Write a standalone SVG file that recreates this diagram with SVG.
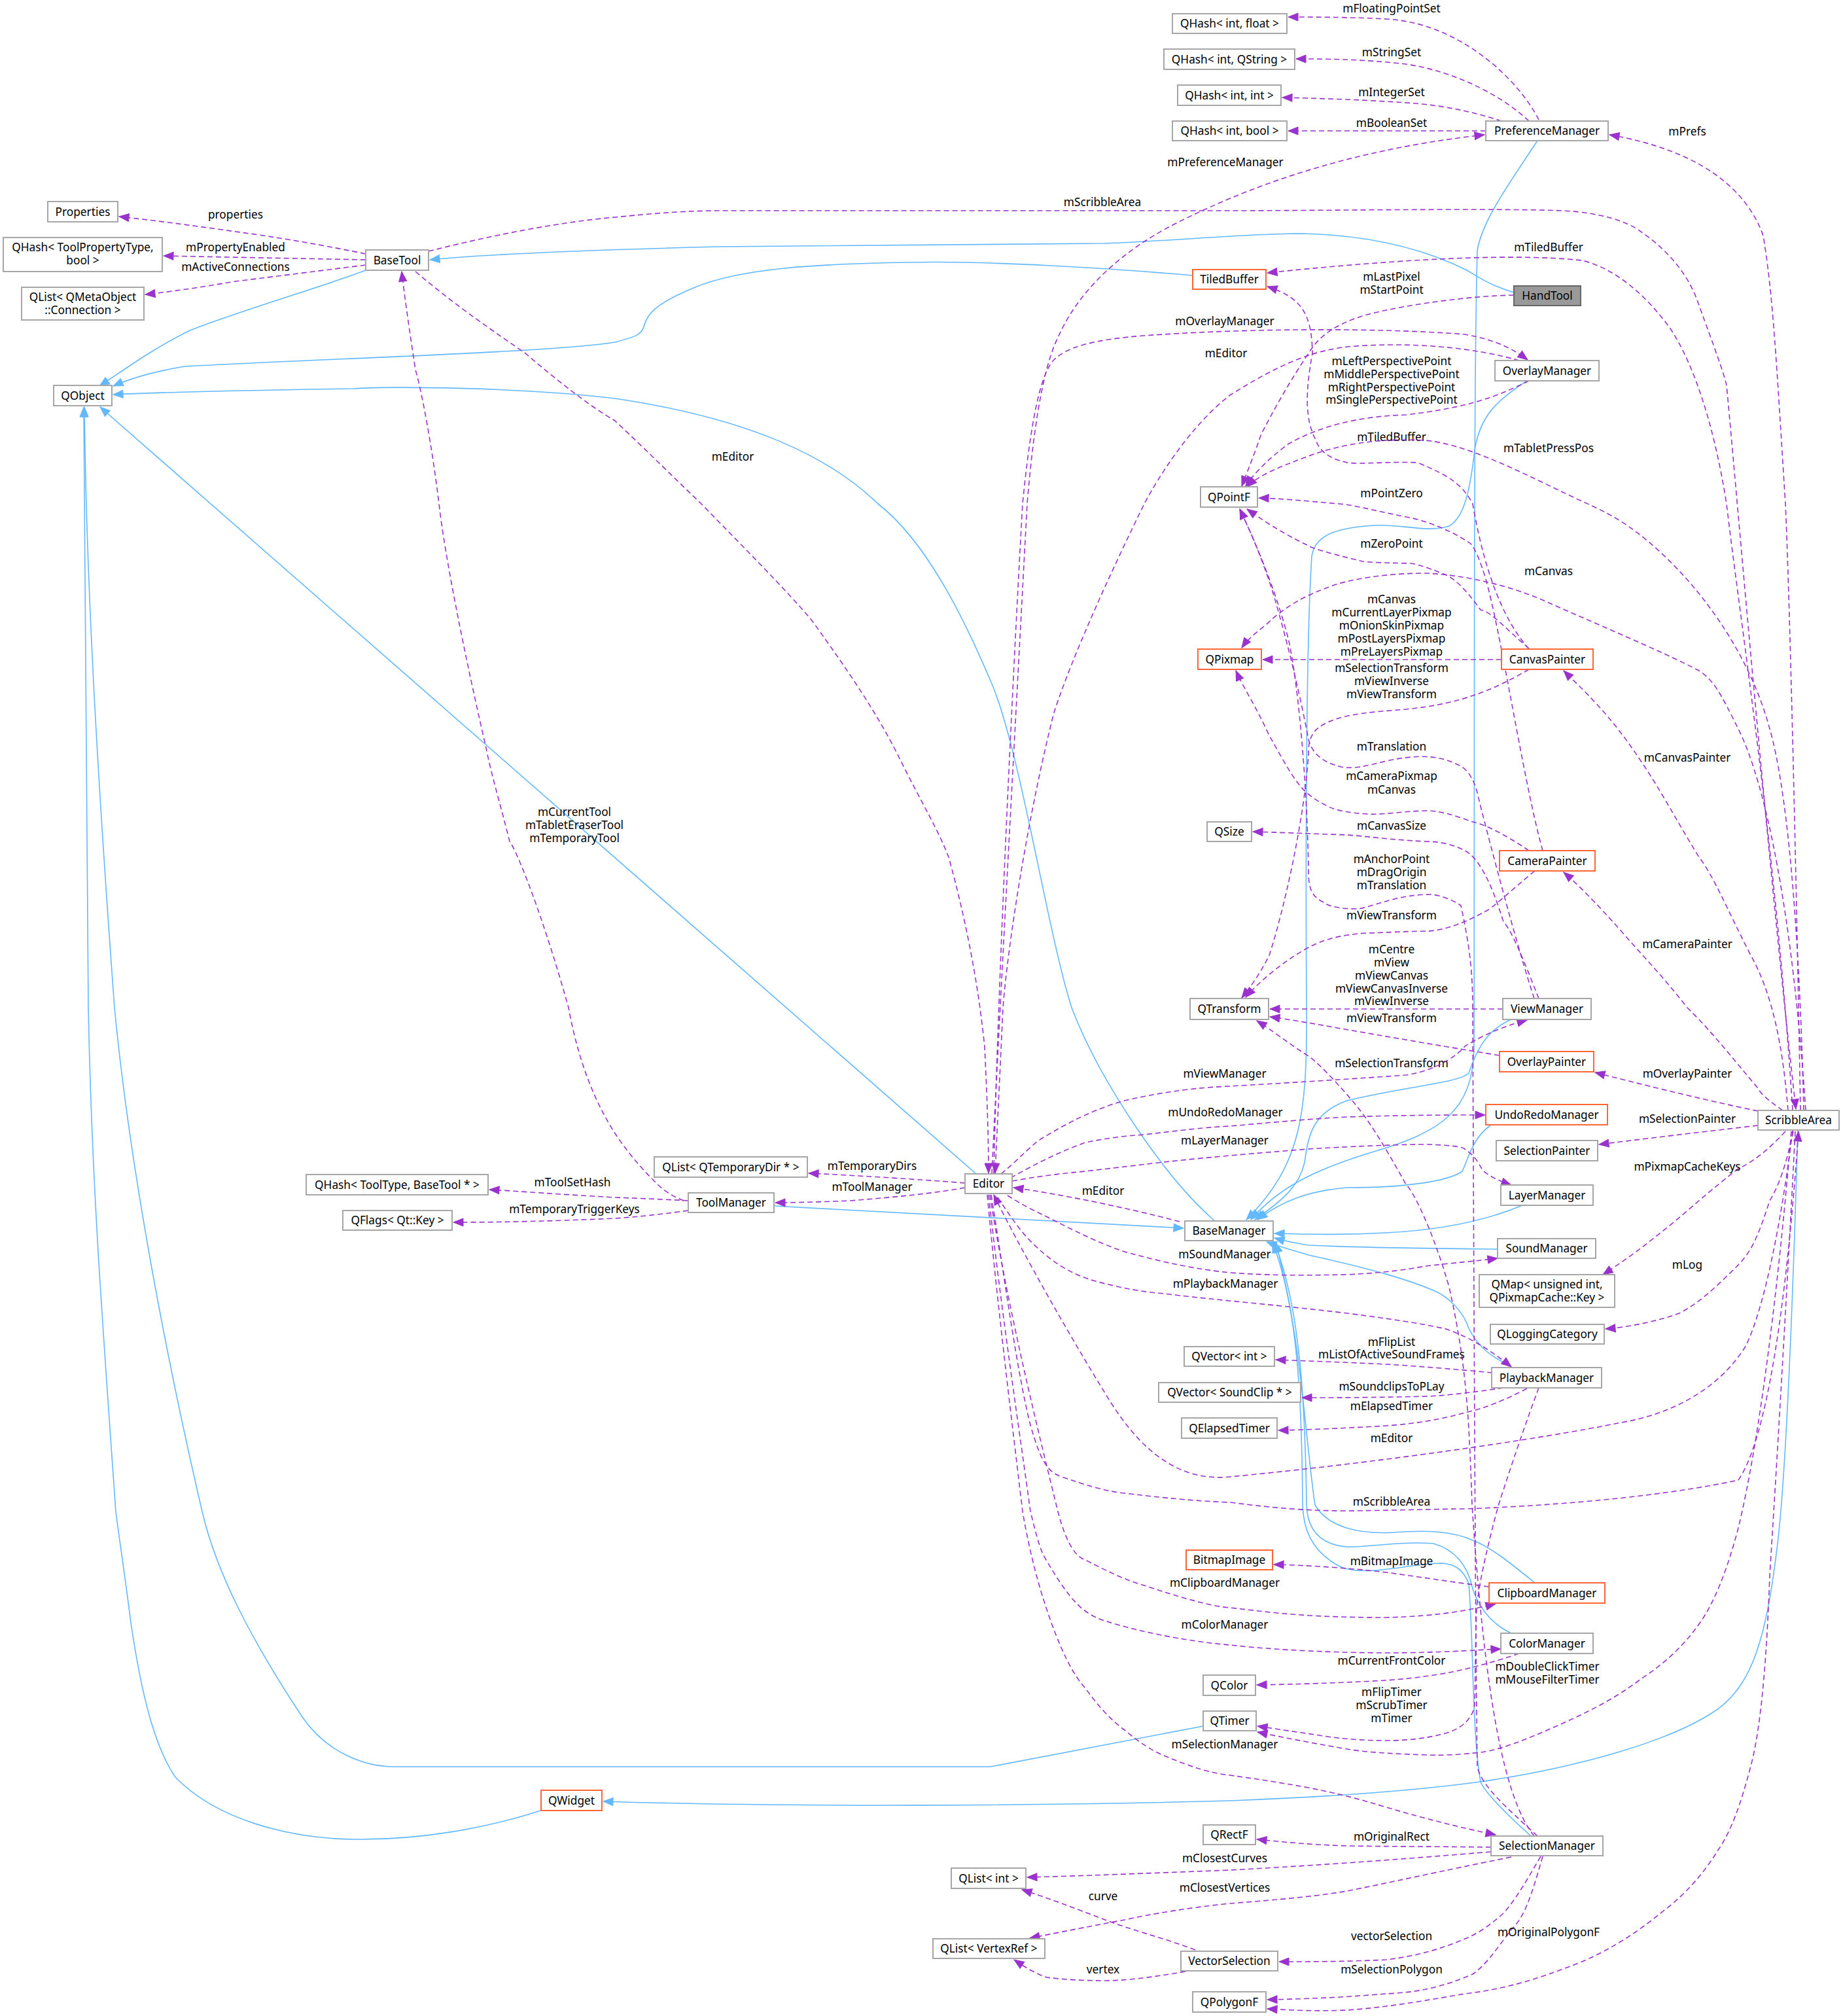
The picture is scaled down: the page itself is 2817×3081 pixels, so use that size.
<svg xmlns="http://www.w3.org/2000/svg" width="2817" height="3081" viewBox="0 0 2817 3081">
<style>
.node rect{fill:#ffffff;stroke:#a6a6a6;stroke-width:2}
.trunc rect{stroke:#ff6633}
.root rect{fill:#999999;stroke:#666666}
text{font-family:"Noto Sans","Liberation Sans",sans-serif;font-size:17.3px;fill:#000000;text-anchor:middle}
.inh{fill:none;stroke:#63b8ff;stroke-width:1.6;marker-end:url(#ab)}
.use{fill:none;stroke:#9a32cd;stroke-width:1.6;stroke-dasharray:8,5;marker-end:url(#ap)}
</style>
<defs>
<marker id="ab" markerUnits="userSpaceOnUse" markerWidth="18" markerHeight="14" refX="15" refY="6" orient="auto" overflow="visible"><path d="M0,0 L15,6 L0,12 z" fill="#63b8ff" stroke="#63b8ff" stroke-width="1"/></marker>
<marker id="ap" markerUnits="userSpaceOnUse" markerWidth="18" markerHeight="14" refX="15" refY="6" orient="auto" overflow="visible"><path d="M0,0 L15,6 L0,12 z" fill="#9a32cd" stroke="#9a32cd" stroke-width="1"/></marker>
</defs>
<rect x="0" y="0" width="2817" height="3081" fill="#ffffff"/>
<g id="connectors">
<!-- inheritance -->
<path class="inh" d="M2314,447 C2280,437 2262,425 2242,413 C2200,392 2120,360 1990,357 C1900,357 1800,368 1689,372 L1100,377 C900,382 750,388 657,397"/>
<path class="inh" d="M1823,421 C1700,410 1500,398 1390,401 C1250,403 1130,410 1060,440 C1000,465 990,480 985,496 C982,512 970,515 940,523 C850,538 500,548 282,560 C240,567 200,578 173,590"/>
<path class="inh" d="M559,413 C500,436 350,480 288,506 C230,535 190,565 152,590"/>
<path class="inh" d="M1857,1866 C1780,1800 1680,1650 1638,1540 C1600,1420 1560,1150 1516,1045 C1480,960 1420,830 1342,770 C1270,700 1150,640 940,609 C800,592 600,590 540,594 C400,596 280,598 173,603"/>
<path class="inh" d="M1492,1794 L153,622"/>
<path class="inh" d="M1839,2638 L1514,2700 L602,2700 C560,2700 500,2680 462,2624 C380,2500 330,2400 309,2310 C260,2100 200,1800 175,1540 C150,1200 132,900 129,622"/>
<path class="inh" d="M827,2767 C740,2795 640,2812 543,2811 C440,2810 330,2780 268,2716 C230,2660 212,2560 200,2480 C190,2400 182,2350 177,2310 C155,2000 140,1800 135,1540 C130,1200 128,900 128,622"/>
<path class="inh" d="M2748,1727 C2740,2000 2730,2250 2717,2359 C2700,2500 2680,2580 2615,2619 C2550,2660 2420,2700 2263,2723 C2100,2745 1900,2751 1880,2752 C1600,2760 1200,2762 922,2753"/>
<path class="inh" d="M1183,1843 L1809,1877"/>
<path class="inh" d="M2350,215 C2300,290 2265,340 2258,383 C2252,600 2254,1200 2253,1600 C2252,1700 2200,1730 2100,1760 C2000,1790 1950,1820 1912,1864"/>
<path class="inh" d="M2334,582 C2290,610 2262,635 2254,688 C2248,740 2240,790 2215,804 C2180,815 2140,800 2100,803 C2050,806 2010,815 2005,850 C1995,1000 1996,1400 1997,1540 C1998,1700 1990,1780 1905,1864"/>
<path class="inh" d="M2310,1558 C2270,1575 2255,1610 2245,1640 C2230,1655 2150,1660 2059,1682 C2010,1700 2000,1730 1995,1770 C1990,1810 1960,1835 1918,1864"/>
<path class="inh" d="M2278,1720 C2250,1740 2245,1770 2235,1790 C2215,1805 2150,1815 2059,1815 C2000,1820 1960,1835 1922,1864"/>
<path class="inh" d="M2327,1842 C2270,1866 2200,1880 2119,1884 C2050,1888 2000,1886 1948,1885"/>
<path class="inh" d="M2289,1909 C2200,1908 2080,1907 2000,1903 C1980,1900 1965,1897 1948,1892"/>
<path class="inh" d="M2310,2088 C2270,2070 2255,2050 2245,2030 C2235,2000 2210,1980 2191,1972 C2150,1955 2100,1940 2000,1918 C1980,1912 1955,1905 1936,1898"/>
<path class="inh" d="M2346,2419 C2310,2390 2280,2365 2251,2354 C2220,2340 2180,2338 2130,2342 C2080,2345 2030,2335 2010,2300 C1995,2200 1990,2050 1950,1899"/>
<path class="inh" d="M2310,2496 C2275,2480 2258,2450 2251,2428 C2245,2400 2230,2370 2191,2359 C2140,2355 2090,2365 2059,2364 C2010,2360 1998,2330 1997,2300 C1995,2150 1988,2000 1948,1899"/>
<path class="inh" d="M2340,2806 C2300,2770 2270,2740 2263,2723 C2250,2650 2252,2500 2245,2420 C2235,2395 2220,2390 2203,2389 C2150,2390 2090,2410 2050,2395 C2000,2370 1992,2330 1991,2300 C1990,2150 1985,2000 1945,1899"/>
<!-- usage -->
<g id="e_mFloatingPointSet"><path class="use" d="M2352,183 C2320,120 2230,35 2119,29 C2060,26 2000,26 1969,26"/><text x="2127" y="19">mFloatingPointSet</text></g>
<g id="e_mStringSet"><path class="use" d="M2337,185 C2300,150 2230,110 2149,98 C2080,90 2020,90 1981,90"/><text x="2127" y="86">mStringSet</text></g>
<g id="e_mIntegerSet"><path class="use" d="M2295,185 C2250,170 2200,160 2149,157 C2080,152 2000,150 1960,149"/><text x="2127" y="147">mIntegerSet</text></g>
<g id="e_mBooleanSet"><path class="use" d="M2271,200 L1969,200"/><text x="2127" y="194">mBooleanSet</text></g>
<g id="e_mPreferenceManager"><path class="use" d="M1516,1794 C1525,1600 1555,1050 1570,770 C1580,650 1595,560 1617,516 C1650,440 1720,380 1800,340 C1900,290 2050,230 2269,206"/><text x="1873" y="254">mPreferenceManager</text></g>
<g id="e_mPrefs"><path class="use" d="M2752,1697 C2745,1300 2735,900 2729,770 C2715,550 2710,450 2695,360 C2670,290 2600,230 2460,206"/><text x="2579" y="207">mPrefs</text></g>
<g id="e_mScribbleArea1"><path class="use" d="M655,384 C750,360 850,340 940,332 C1000,326 1050,322 1100,322 L1880,322 C2000,322 2300,318 2388,322 C2450,325 2490,340 2508,354 C2560,390 2585,430 2597,467 C2620,530 2635,570 2639,589 C2650,700 2700,1300 2745,1695"/><text x="1685" y="315">mScribbleArea</text></g>
<g id="e_properties"><path class="use" d="M559,388 C480,372 420,362 360,354 C290,344 230,336 182,331"/><text x="360" y="334">properties</text></g>
<g id="e_mPropertyEnabled"><path class="use" d="M559,397 C450,395 350,393 250,391"/><text x="360" y="384">mPropertyEnabled</text></g>
<g id="e_mActiveConnections"><path class="use" d="M559,405 C480,415 400,425 360,430 C300,440 260,446 222,450"/><text x="360" y="414">mActiveConnections</text></g>
<g id="e_mTiledBuffer1"><path class="use" d="M2740,1697 C2715,1300 2660,950 2639,770 C2620,650 2590,560 2555,505 C2520,455 2470,410 2418,398 C2300,385 2100,400 1937,417"/><text x="2367" y="384">mTiledBuffer</text></g>
<g id="e_mLastPixel"><path class="use" d="M2314,451 C2250,452 2150,465 2089,481 C2040,495 2015,515 2000,540 C1960,600 1935,650 1928,663 C1915,700 1905,725 1898,743"/><text x="2127" y="429">mLastPixel</text><text x="2127" y="449">mStartPoint</text></g>
<g id="e_mOverlayManager"><path class="use" d="M1519,1794 C1525,1500 1550,1000 1563,770 C1575,650 1590,560 1617,545 C1640,525 1700,515 1779,511 C1900,503 2100,500 2239,511 C2290,520 2315,535 2335,550"/><text x="1872" y="497">mOverlayManager</text></g>
<g id="e_mEditor1"><path class="use" d="M2322,551 C2250,530 2150,522 2059,530 C2000,537 1950,560 1880,604 C1820,650 1770,730 1749,770 C1700,870 1640,1000 1611,1089 C1570,1250 1540,1450 1533,1540 C1528,1650 1523,1750 1521,1793"/><text x="1874" y="546">mEditor</text></g>
<g id="e_mPerspective"><path class="use" d="M2337,582 C2290,605 2250,622 2149,634 C2080,636 2020,650 1970,678 C1940,700 1915,725 1904,743"/><text x="2127" y="558">mLeftPerspectivePoint</text><text x="2127" y="578">mMiddlePerspectivePoint</text><text x="2127" y="598">mRightPerspectivePoint</text><text x="2127" y="617">mSinglePerspectivePoint</text></g>
<g id="e_mTiledBuffer2"><path class="use" d="M2337,992 C2300,950 2270,880 2251,770 C2235,740 2215,727 2167,707 C2120,705 2080,710 2059,707 C2030,700 2017,690 2010,670 C1995,640 1995,600 2006,540 C2005,480 1990,455 1937,438"/><text x="2127" y="674">mTiledBuffer</text></g>
<g id="e_mTabletPressPos"><path class="use" d="M2757,1697 C2750,1400 2730,1200 2705,1114 C2680,1020 2620,920 2538,844 C2490,800 2460,785 2418,766 C2340,730 2250,680 2179,673 C2120,670 2060,675 2000,697 C1960,712 1925,725 1906,744"/><text x="2367" y="691">mTabletPressPos</text></g>
<g id="e_mEditor2"><path class="use" d="M635,415 C700,470 760,510 803,540 C850,580 900,620 940,643 C990,690 1030,730 1072,770 C1140,840 1200,900 1240,947 C1300,1030 1340,1090 1372,1153 C1410,1230 1435,1270 1450,1310 C1475,1400 1495,1500 1505,1600 C1510,1700 1511,1760 1511,1793"/><text x="1120" y="704">mEditor</text></g>
<g id="e_mPointZero"><path class="use" d="M2358,1300 C2330,1200 2300,1000 2275,900 C2262,850 2250,830 2245,829 C2220,812 2180,795 2149,790 C2100,780 2070,772 2047,770 C2000,766 1960,762 1924,761"/><text x="2127" y="760">mPointZero</text></g>
<g id="e_mZeroPoint"><path class="use" d="M2337,991 C2300,960 2280,935 2263,932 C2240,900 2220,880 2203,876 C2180,866 2160,861 2155,861 C2120,860 2100,860 2083,858 C2050,850 2010,840 2000,834 C1960,815 1930,795 1906,778"/><text x="2127" y="837">mZeroPoint</text></g>
<g id="e_mCanvas1"><path class="use" d="M2760,1697 C2740,1400 2700,1200 2657,1114 C2630,1060 2620,1040 2597,1025 C2540,995 2420,945 2358,917 C2300,892 2230,878 2179,876 C2120,876 2060,885 2029,898 C1980,915 1950,940 1935,955 C1915,970 1905,980 1898,990"/><text x="2367" y="879">mCanvas</text></g>
<g id="e_mCanvasPixmaps"><path class="use" d="M2295,1008 L1930,1008"/><text x="2127" y="922">mCanvas</text><text x="2127" y="942">mCurrentLayerPixmap</text><text x="2127" y="962">mOnionSkinPixmap</text><text x="2127" y="982">mPostLayersPixmap</text><text x="2127" y="1002">mPreLayersPixmap</text></g>
<g id="e_mCanvasTransforms"><path class="use" d="M2337,1023 C2290,1050 2240,1075 2149,1084 C2100,1088 2060,1090 2029,1104 C2005,1115 2000,1130 2000,1150 C1995,1250 1960,1400 1940,1460 C1925,1490 1910,1510 1898,1525"/><text x="2127" y="1027">mSelectionTransform</text><text x="2127" y="1047">mViewInverse</text><text x="2127" y="1067">mViewTransform</text></g>
<g id="e_mTranslation"><path class="use" d="M2345,1526 C2320,1450 2280,1300 2260,1220 C2255,1195 2245,1175 2227,1168 C2200,1155 2170,1152 2119,1163 C2090,1170 2070,1176 2050,1172 C2020,1165 2005,1150 2000,1130 C1985,1050 1960,950 1940,888 C1920,830 1905,800 1895,778"/><text x="2127" y="1147">mTranslation</text></g>
<g id="e_mCameraPixmap"><path class="use" d="M2337,1300 C2300,1275 2270,1260 2251,1256 C2220,1245 2200,1239 2179,1239 C2140,1240 2110,1246 2089,1244 C2060,1242 2040,1238 2029,1232 C2005,1220 1995,1210 1988,1202 C1970,1180 1955,1150 1940,1124 C1920,1080 1900,1050 1889,1025"/><text x="2127" y="1192">mCameraPixmap</text><text x="2127" y="1213">mCanvas</text></g>
<g id="e_mCanvasSize"><path class="use" d="M2352,1526 C2330,1470 2310,1420 2298,1409 C2280,1350 2260,1310 2239,1300 C2220,1290 2200,1286 2179,1286 C2120,1283 2090,1278 2059,1276 C2000,1274 1950,1272 1915,1271"/><text x="2127" y="1268">mCanvasSize</text></g>
<g id="e_mAnchorPoint"><path class="use" d="M2350,2806 C2300,2760 2265,2730 2258,2700 C2255,2500 2253,2000 2251,1540 C2251,1480 2245,1440 2233,1384 C2220,1375 2200,1367 2185,1367 C2160,1367 2140,1372 2131,1374 C2100,1382 2085,1389 2071,1389 C2050,1389 2030,1385 2023,1379 C2005,1370 2000,1359 2000,1330 C1998,1200 1985,1050 1970,980 C1950,900 1915,820 1895,778"/><text x="2127" y="1319">mAnchorPoint</text><text x="2127" y="1339">mDragOrigin</text><text x="2127" y="1359">mTranslation</text></g>
<g id="e_mViewTransform1"><path class="use" d="M2346,1331 C2310,1360 2280,1390 2268,1394 C2230,1415 2200,1423 2179,1423 C2130,1424 2100,1426 2089,1426 C2050,1428 2020,1437 2000,1448 C1960,1470 1925,1500 1904,1524"/><text x="2127" y="1405">mViewTransform</text></g>
<g id="e_mViewMembers"><path class="use" d="M2297,1542 L1941,1542"/><text x="2127" y="1457">mCentre</text><text x="2127" y="1477">mView</text><text x="2127" y="1497">mViewCanvas</text><text x="2127" y="1517">mViewCanvasInverse</text><text x="2127" y="1536">mViewInverse</text></g>
<g id="e_mViewTransform2"><path class="use" d="M2292,1613 C2200,1598 2119,1584 2050,1572 C2000,1563 1970,1558 1941,1554"/><text x="2127" y="1562">mViewTransform</text></g>
<g id="e_mSelectionTransform"><path class="use" d="M2345,2806 C2300,2750 2270,2600 2250,2300 C2245,2150 2240,2080 2215,1967 C2190,1880 2160,1820 2149,1810 C2110,1740 2090,1710 2071,1687 C2040,1650 2010,1620 2000,1614 C1970,1595 1945,1575 1921,1560"/><text x="2127" y="1631">mSelectionTransform</text></g>
<g id="e_mCanvasPainter"><path class="use" d="M2733,1697 C2725,1600 2710,1520 2675,1458 C2640,1390 2620,1340 2597,1310 C2560,1250 2540,1210 2508,1163 C2460,1090 2420,1055 2390,1025"/><text x="2579" y="1164">mCanvasPainter</text></g>
<g id="e_mCameraPainter"><path class="use" d="M2725,1697 C2700,1680 2690,1670 2687,1663 C2650,1620 2620,1580 2579,1540 C2540,1490 2510,1460 2478,1423 C2440,1380 2410,1350 2390,1333"/><text x="2579" y="1449">mCameraPainter</text></g>
<g id="e_mOverlayPainter"><path class="use" d="M2687,1698 C2600,1680 2500,1655 2438,1639"/><text x="2579" y="1647">mOverlayPainter</text></g>
<g id="e_mViewManager"><path class="use" d="M1530,1794 C1560,1770 1580,1745 1599,1736 C1650,1705 1690,1690 1719,1682 C1780,1668 1830,1662 1880,1660 C1950,1656 2050,1650 2149,1643 C2200,1635 2230,1610 2239,1599 C2270,1580 2300,1568 2334,1559"/><text x="1872" y="1647">mViewManager</text></g>
<g id="e_mUndoRedoManager"><path class="use" d="M1545,1800 C1580,1780 1620,1760 1659,1746 C1700,1738 1720,1736 1749,1734 C1800,1728 1850,1722 1880,1721 C1950,1715 2000,1710 2059,1707 C2150,1704 2220,1704 2270,1704"/><text x="1873" y="1706">mUndoRedoManager</text></g>
<g id="e_mLayerManager"><path class="use" d="M1547,1805 C1600,1795 1650,1791 1659,1790 C1720,1783 1770,1777 1779,1776 C1850,1768 1950,1760 2000,1756 C2080,1751 2150,1749 2179,1749 C2220,1750 2235,1753 2239,1756 C2260,1770 2262,1785 2268,1790 C2280,1800 2295,1806 2310,1811"/><text x="1872" y="1749">mLayerManager</text></g>
<g id="e_mEditor3"><path class="use" d="M1803,1867 C1720,1845 1620,1825 1549,1815"/><text x="1686" y="1826">mEditor</text></g>
<g id="e_mSoundManager"><path class="use" d="M1540,1827 C1560,1840 1580,1850 1599,1859 C1640,1880 1680,1900 1719,1913 C1780,1930 1830,1940 1880,1945 C1950,1950 2000,1949 2059,1948 C2120,1945 2150,1940 2179,1935 C2220,1930 2260,1927 2289,1923"/><text x="1872" y="1923">mSoundManager</text></g>
<g id="e_mPlaybackManager"><path class="use" d="M1525,1830 C1545,1860 1565,1890 1587,1908 C1610,1930 1640,1948 1671,1957 C1710,1968 1750,1975 1779,1977 C1820,1982 1850,1985 1880,1988 C1950,1995 2000,2000 2059,2007 C2120,2015 2170,2022 2210,2031 C2250,2045 2280,2065 2310,2089"/><text x="1873" y="1968">mPlaybackManager</text></g>
<g id="e_mFlipList"><path class="use" d="M2281,2098 C2230,2093 2170,2088 2119,2085 C2060,2082 2000,2080 1950,2078"/><text x="2127" y="2057">mFlipList</text><text x="2127" y="2076">mListOfActiveSoundFrames</text></g>
<g id="e_mSoundclipsToPLay"><path class="use" d="M2298,2121 C2250,2128 2210,2133 2179,2134 C2100,2136 2030,2136 1990,2136"/><text x="2127" y="2125">mSoundclipsToPLay</text></g>
<g id="e_mElapsedTimer"><path class="use" d="M2334,2122 C2300,2140 2270,2152 2239,2159 C2200,2170 2160,2176 2119,2179 C2050,2183 2000,2185 1954,2186"/><text x="2127" y="2155">mElapsedTimer</text></g>
<g id="e_mEditor4"><path class="use" d="M2740,1728 C2725,1850 2700,1990 2669,2056 C2630,2120 2560,2160 2478,2174 C2350,2200 2100,2236 1880,2257 C1800,2265 1740,2215 1689,2129 C1640,2050 1560,1910 1519,1826"/><text x="2127" y="2204">mEditor</text></g>
<g id="e_mScribbleArea2"><path class="use" d="M1515,1826 C1535,1950 1555,2100 1575,2178 C1590,2230 1600,2250 1623,2257 C1660,2270 1690,2279 1719,2282 C1800,2292 1850,2295 1880,2296 C1950,2305 2000,2309 2059,2309 C2150,2308 2200,2306 2239,2306 C2400,2300 2550,2285 2657,2262 C2700,2200 2730,2000 2749,1729"/><text x="2127" y="2301">mScribbleArea</text></g>
<g id="e_mClipboardManager"><path class="use" d="M1513,1826 C1540,2000 1590,2200 1617,2310 C1630,2360 1645,2380 1659,2384 C1690,2400 1720,2415 1749,2423 C1800,2440 1850,2455 1880,2457 C1950,2465 2000,2472 2119,2472 C2200,2470 2250,2460 2286,2451"/><text x="1872" y="2425">mClipboardManager</text></g>
<g id="e_mColorManager"><path class="use" d="M1511,1826 C1530,2000 1560,2200 1575,2310 C1585,2350 1590,2370 1599,2384 C1620,2420 1635,2440 1647,2452 C1660,2465 1675,2473 1689,2477 C1750,2497 1830,2510 1880,2514 C1950,2522 2050,2526 2119,2526 C2200,2526 2250,2522 2294,2520"/><text x="1872" y="2489">mColorManager</text></g>
<g id="e_mSelectionManager"><path class="use" d="M1509,1826 C1525,2000 1550,2200 1563,2310 C1575,2380 1590,2430 1599,2457 C1620,2520 1640,2560 1659,2580 C1680,2610 1700,2630 1719,2644 C1740,2662 1760,2675 1779,2683 C1820,2700 1850,2710 1880,2713 C1930,2720 1960,2725 2000,2732 C2050,2742 2080,2750 2119,2762 C2180,2780 2240,2795 2286,2804"/><text x="1872" y="2672">mSelectionManager</text></g>
<g id="e_mToolManager"><path class="use" d="M1475,1815 C1420,1825 1360,1830 1300,1835 C1250,1837 1210,1838 1185,1838"/><text x="1333" y="1820">mToolManager</text></g>
<g id="e_mTemporaryDirs"><path class="use" d="M1475,1808 C1400,1802 1300,1796 1236,1793"/><text x="1333" y="1788">mTemporaryDirs</text></g>
<g id="e_mToolSetHash"><path class="use" d="M1052,1835 C1000,1832 960,1831 940,1830 C850,1825 800,1821 748,1818"/><text x="875" y="1813">mToolSetHash</text></g>
<g id="e_mTemporaryTriggerKeys"><path class="use" d="M1052,1850 C1010,1856 970,1860 940,1862 C850,1866 770,1868 693,1868"/><text x="878" y="1854">mTemporaryTriggerKeys</text></g>
<g id="e_mCurrentTool"><path class="use" d="M1045,1835 C1020,1825 1010,1815 1000,1805 C975,1780 955,1755 940,1732 C900,1670 880,1600 869,1540 C830,1400 790,1300 779,1286 C765,1230 750,1180 743,1143 C710,1000 680,850 671,770 C660,680 645,600 635,565 C625,500 618,450 614,415"/><text x="878" y="1247">mCurrentTool</text><text x="878" y="1267">mTabletEraserTool</text><text x="878" y="1287">mTemporaryTool</text></g>
<g id="e_mSelectionPainter"><path class="use" d="M2687,1720 C2600,1730 2500,1742 2444,1749"/><text x="2579" y="1716">mSelectionPainter</text></g>
<g id="e_mPixmapCacheKeys"><path class="use" d="M2729,1729 C2700,1760 2680,1775 2657,1786 C2600,1830 2570,1860 2538,1884 C2500,1915 2470,1935 2450,1948"/><text x="2579" y="1789">mPixmapCacheKeys</text></g>
<g id="e_mLog"><path class="use" d="M2741,1729 C2730,1780 2720,1810 2705,1835 C2690,1880 2680,1910 2657,1933 C2630,1960 2600,1990 2567,2007 C2530,2020 2490,2028 2454,2031"/><text x="2579" y="1939">mLog</text></g>
<g id="e_mDoubleClickTimer"><path class="use" d="M2738,1729 C2720,1950 2690,2200 2657,2335 C2640,2400 2620,2450 2597,2482 C2570,2520 2540,2545 2508,2566 C2470,2595 2430,2615 2388,2634 C2330,2660 2290,2675 2263,2678 C2230,2682 2200,2683 2179,2682 C2120,2680 2080,2677 2059,2673 C2000,2663 1960,2655 1922,2647"/><text x="2365" y="2553">mDoubleClickTimer</text><text x="2365" y="2573">mMouseFilterTimer</text></g>
<g id="e_mFlipTimer"><path class="use" d="M2352,2121 C2330,2180 2310,2240 2298,2277 C2290,2300 2285,2320 2280,2340 C2265,2400 2260,2430 2257,2457 C2255,2500 2255,2570 2254,2605 C2252,2625 2235,2642 2209,2649 C2180,2657 2150,2660 2119,2660 C2080,2660 2050,2657 2029,2654 C1990,2648 1955,2643 1922,2638"/><text x="2127" y="2592">mFlipTimer</text><text x="2127" y="2612">mScrubTimer</text><text x="2127" y="2632">mTimer</text></g>
<g id="e_mBitmapImage"><path class="use" d="M2276,2425 C2220,2418 2170,2410 2119,2403 C2050,2395 1990,2392 1947,2391"/><text x="2127" y="2392">mBitmapImage</text></g>
<g id="e_mCurrentFrontColor"><path class="use" d="M2322,2527 C2290,2538 2260,2546 2239,2551 C2200,2560 2160,2565 2119,2568 C2050,2572 1980,2574 1921,2575"/><text x="2127" y="2544">mCurrentFrontColor</text></g>
<g id="e_mOriginalRect"><path class="use" d="M2279,2823 C2200,2822 2120,2822 2059,2821 C2000,2819 1960,2815 1921,2811"/><text x="2127" y="2813">mOriginalRect</text></g>
<g id="e_mClosestCurves"><path class="use" d="M2279,2830 C2100,2845 1990,2852 1880,2858 C1750,2863 1650,2867 1570,2869"/><text x="1872" y="2846">mClosestCurves</text></g>
<g id="e_mClosestVertices"><path class="use" d="M2310,2838 C2200,2860 2120,2878 2059,2890 C2000,2900 1930,2905 1880,2909 C1820,2915 1760,2925 1719,2934 C1660,2945 1610,2955 1574,2962"/><text x="1872" y="2891">mClosestVertices</text></g>
<g id="e_curve"><path class="use" d="M1827,2980 C1780,2962 1730,2950 1689,2934 C1640,2915 1600,2900 1562,2888"/><text x="1686" y="2904">curve</text></g>
<g id="e_vertex"><path class="use" d="M1812,3013 C1760,3022 1720,3027 1689,3027 C1650,3027 1625,3025 1600,3022 C1580,3015 1565,3005 1550,2995"/><text x="1686" y="3016">vertex</text></g>
<g id="e_vectorSelection"><path class="use" d="M2355,2837 C2330,2880 2315,2905 2298,2924 C2280,2940 2260,2955 2239,2963 C2200,2980 2160,2990 2119,2995 C2060,2998 2000,2998 1955,2998"/><text x="2127" y="2965">vectorSelection</text></g>
<g id="e_mSelectionPolygon"><path class="use" d="M2358,2837 C2340,2900 2330,2930 2310,2949 C2290,2975 2270,3005 2251,3017 C2210,3035 2170,3045 2119,3047 C2060,3052 2000,3055 1937,3056"/><text x="2127" y="3016">mSelectionPolygon</text></g>
<g id="e_mOriginalPolygonF"><path class="use" d="M2744,1729 C2730,2000 2715,2250 2705,2408 C2700,2550 2690,2650 2675,2703 C2660,2760 2645,2800 2627,2826 C2600,2870 2570,2900 2538,2924 C2500,2955 2460,2980 2418,2998 C2350,3025 2300,3040 2239,3047 C2180,3057 2120,3068 2059,3072 C2010,3074 1970,3072 1937,3070"/><text x="2367" y="2959">mOriginalPolygonF</text></g>
</g>
<g id="nodes">
<g id="n_Properties" class="node"><rect x="73" y="308" width="107" height="31"/><text x="126.5" y="329.5">Properties</text></g>
<g id="n_QHashToolPropertyType" class="node"><rect x="5" y="363" width="243" height="52"/><text x="126.5" y="384">QHash&lt; ToolPropertyType,</text><text x="126.5" y="404">bool &gt;</text></g>
<g id="n_QListConnection" class="node"><rect x="33" y="439" width="187" height="50"/><text x="126.5" y="460">QList&lt; QMetaObject</text><text x="126.5" y="480">::Connection &gt;</text></g>
<g id="n_BaseTool" class="node"><rect x="559" y="382" width="96" height="31"/><text x="607" y="403.5">BaseTool</text></g>
<g id="n_QObject" class="node"><rect x="82" y="589" width="89" height="31"/><text x="126.5" y="610.5">QObject</text></g>
<g id="n_QHashIntFloat" class="node"><rect x="1792" y="21" width="175" height="30"/><text x="1879.5" y="42">QHash&lt; int, float &gt;</text></g>
<g id="n_QHashIntQString" class="node"><rect x="1779" y="75" width="200" height="31"/><text x="1879" y="96.5">QHash&lt; int, QString &gt;</text></g>
<g id="n_QHashIntInt" class="node"><rect x="1800" y="130" width="158" height="31"/><text x="1879" y="151.5">QHash&lt; int, int &gt;</text></g>
<g id="n_QHashIntBool" class="node"><rect x="1792" y="185" width="175" height="30"/><text x="1879.5" y="206">QHash&lt; int, bool &gt;</text></g>
<g id="n_PreferenceManager" class="node"><rect x="2271" y="185" width="187" height="30"/><text x="2364.5" y="206">PreferenceManager</text></g>
<g id="n_TiledBuffer" class="node trunc"><rect x="1823" y="412" width="112" height="30"/><text x="1879" y="433">TiledBuffer</text></g>
<g id="n_HandTool" class="node root"><rect x="2314" y="437" width="102" height="30"/><text x="2365" y="458">HandTool</text></g>
<g id="n_OverlayManager" class="node"><rect x="2285" y="551" width="159" height="31"/><text x="2364.5" y="572.5">OverlayManager</text></g>
<g id="n_QPointF" class="node"><rect x="1835" y="744" width="87" height="31"/><text x="1878.5" y="765.5">QPointF</text></g>
<g id="n_QPixmap" class="node trunc"><rect x="1831" y="992" width="97" height="31"/><text x="1879.5" y="1013.5">QPixmap</text></g>
<g id="n_CanvasPainter" class="node trunc"><rect x="2295" y="992" width="140" height="31"/><text x="2365" y="1013.5">CanvasPainter</text></g>
<g id="n_QSize" class="node"><rect x="1845" y="1256" width="68" height="30"/><text x="1879" y="1277">QSize</text></g>
<g id="n_CameraPainter" class="node trunc"><rect x="2292" y="1300" width="146" height="31"/><text x="2365" y="1321.5">CameraPainter</text></g>
<g id="n_QTransform" class="node"><rect x="1819" y="1526" width="120" height="32"/><text x="1879" y="1548">QTransform</text></g>
<g id="n_ViewManager" class="node"><rect x="2297" y="1526" width="135" height="32"/><text x="2364.5" y="1548">ViewManager</text></g>
<g id="n_OverlayPainter" class="node trunc"><rect x="2292" y="1607" width="144" height="31"/><text x="2364" y="1628.5">OverlayPainter</text></g>
<g id="n_UndoRedoManager" class="node trunc"><rect x="2271" y="1688" width="186" height="31"/><text x="2364" y="1709.5">UndoRedoManager</text></g>
<g id="n_ScribbleArea" class="node"><rect x="2687" y="1697" width="124" height="30"/><text x="2749" y="1718">ScribbleArea</text></g>
<g id="n_SelectionPainter" class="node"><rect x="2287" y="1743" width="155" height="31"/><text x="2364.5" y="1764.5">SelectionPainter</text></g>
<g id="n_QListQTemporaryDir" class="node"><rect x="1000" y="1768" width="234" height="31"/><text x="1117" y="1789.5">QList&lt; QTemporaryDir * &gt;</text></g>
<g id="n_Editor" class="node"><rect x="1475" y="1794" width="72" height="30"/><text x="1511" y="1815">Editor</text></g>
<g id="n_QHashToolType" class="node"><rect x="468" y="1795" width="278" height="31"/><text x="607" y="1816.5">QHash&lt; ToolType, BaseTool * &gt;</text></g>
<g id="n_LayerManager" class="node"><rect x="2294" y="1811" width="141" height="31"/><text x="2364.5" y="1832.5">LayerManager</text></g>
<g id="n_ToolManager" class="node"><rect x="1052" y="1823" width="131" height="30"/><text x="1117.5" y="1844">ToolManager</text></g>
<g id="n_QFlags" class="node"><rect x="524" y="1850" width="167" height="30"/><text x="607.5" y="1871">QFlags&lt; Qt::Key &gt;</text></g>
<g id="n_BaseManager" class="node"><rect x="1811" y="1866" width="135" height="30"/><text x="1878.5" y="1887">BaseManager</text></g>
<g id="n_SoundManager" class="node"><rect x="2289" y="1893" width="150" height="30"/><text x="2364" y="1914">SoundManager</text></g>
<g id="n_QMap" class="node"><rect x="2261" y="1948" width="207" height="50"/><text x="2364.5" y="1969">QMap&lt; unsigned int,</text><text x="2364.5" y="1989">QPixmapCache::Key &gt;</text></g>
<g id="n_QLoggingCategory" class="node"><rect x="2278" y="2024" width="174" height="30"/><text x="2365" y="2045">QLoggingCategory</text></g>
<g id="n_QVectorInt" class="node"><rect x="1810" y="2058" width="138" height="30"/><text x="1879" y="2079">QVector&lt; int &gt;</text></g>
<g id="n_PlaybackManager" class="node"><rect x="2280" y="2090" width="168" height="31"/><text x="2364" y="2111.5">PlaybackManager</text></g>
<g id="n_QVectorSoundClip" class="node"><rect x="1771" y="2113" width="217" height="30"/><text x="1879.5" y="2134">QVector&lt; SoundClip * &gt;</text></g>
<g id="n_QElapsedTimer" class="node"><rect x="1806" y="2167" width="146" height="31"/><text x="1879" y="2188.5">QElapsedTimer</text></g>
<g id="n_BitmapImage" class="node trunc"><rect x="1813" y="2369" width="132" height="30"/><text x="1879" y="2390">BitmapImage</text></g>
<g id="n_ClipboardManager" class="node trunc"><rect x="2276" y="2419" width="177" height="31"/><text x="2364.5" y="2440.5">ClipboardManager</text></g>
<g id="n_ColorManager" class="node"><rect x="2294" y="2496" width="141" height="31"/><text x="2364.5" y="2517.5">ColorManager</text></g>
<g id="n_QColor" class="node"><rect x="1839" y="2560" width="80" height="31"/><text x="1879" y="2581.5">QColor</text></g>
<g id="n_QTimer" class="node"><rect x="1839" y="2615" width="81" height="30"/><text x="1879.5" y="2636">QTimer</text></g>
<g id="n_QWidget" class="node trunc"><rect x="827" y="2736" width="93" height="31"/><text x="873.5" y="2757.5">QWidget</text></g>
<g id="n_QRectF" class="node"><rect x="1839" y="2789" width="80" height="30"/><text x="1879" y="2810">QRectF</text></g>
<g id="n_SelectionManager" class="node"><rect x="2279" y="2806" width="171" height="30"/><text x="2364.5" y="2827">SelectionManager</text></g>
<g id="n_QListInt" class="node"><rect x="1454" y="2855" width="114" height="31"/><text x="1511" y="2876.5">QList&lt; int &gt;</text></g>
<g id="n_QListVertexRef" class="node"><rect x="1426" y="2963" width="171" height="30"/><text x="1511.5" y="2984">QList&lt; VertexRef &gt;</text></g>
<g id="n_VectorSelection" class="node"><rect x="1805" y="2982" width="148" height="30"/><text x="1879" y="3003">VectorSelection</text></g>
<g id="n_QPolygonF" class="node"><rect x="1823" y="3044" width="112" height="31"/><text x="1879" y="3065.5">QPolygonF</text></g>
</g>
</svg>
